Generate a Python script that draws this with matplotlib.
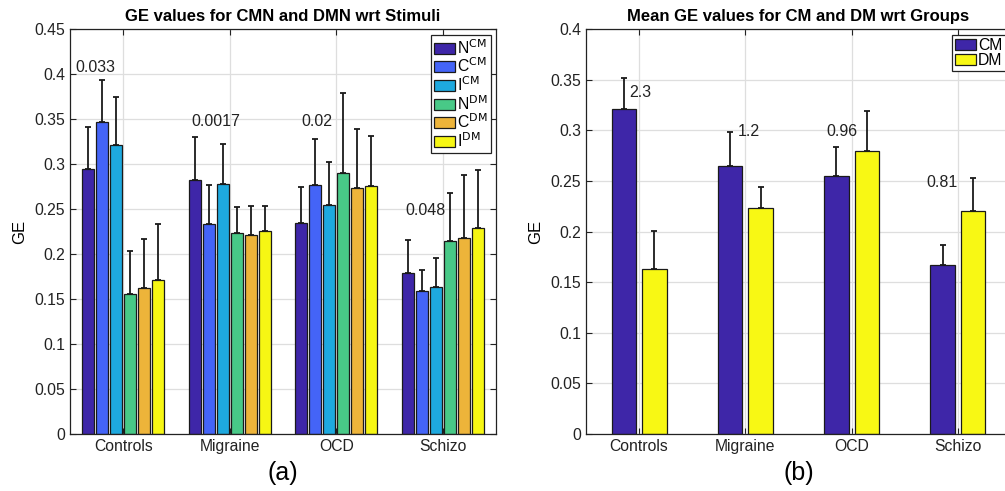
import numpy as np
import matplotlib
matplotlib.use("Agg")
import matplotlib.pyplot as plt

plt.rcParams["font.family"] = ["Liberation Sans", "DejaVu Sans"]

# ── data ──────────────────────────────────────────────────────────────────────
groups = ["Controls", "Migraine", "OCD", "Schizo"]

# panel (a): GE per stimulus
stim_names = ["N$^{\\mathrm{CM}}$", "C$^{\\mathrm{CM}}$", "I$^{\\mathrm{CM}}$",
              "N$^{\\mathrm{DM}}$", "C$^{\\mathrm{DM}}$", "I$^{\\mathrm{DM}}$"]
n_cm = [0.295, 0.282, 0.235, 0.179]
c_cm = [0.347, 0.234, 0.277, 0.159]
i_cm = [0.321, 0.278, 0.255, 0.163]
n_dm = [0.156, 0.224, 0.290, 0.215]
c_dm = [0.162, 0.221, 0.273, 0.218]
i_dm = [0.171, 0.226, 0.276, 0.229]
n_cm_err = [0.046, 0.048, 0.040, 0.037]
c_cm_err = [0.047, 0.043, 0.051, 0.023]
i_cm_err = [0.054, 0.044, 0.048, 0.033]
n_dm_err = [0.048, 0.028, 0.089, 0.053]
c_dm_err = [0.055, 0.032, 0.066, 0.070]
i_dm_err = [0.063, 0.028, 0.055, 0.064]
p_labels_a = ["0.033", "0.0017", "0.02", "0.048"]

# panel (b): mean GE per group
cm_mean = [0.321, 0.265, 0.255, 0.167]
dm_mean = [0.163, 0.2235, 0.2795, 0.2205]
cm_err = [0.031, 0.033, 0.029, 0.020]
dm_err = [0.038, 0.021, 0.040, 0.033]
p_labels_b = ["2.3", "1.2", "0.96", "0.81"]

# ── styling ───────────────────────────────────────────────────────────────────
stim_colors = ["#3E26A8", "#4464F7", "#1EA9DF", "#48C987", "#EDB43A", "#F6F614"]
pos_a = [(0.737, 0.408), (1.865, 0.348), (2.814, 0.348), (3.834, 0.248)]
pos_b = [(1.007, 0.338), (2.03, 0.2985), (2.91, 0.2985), (3.85, 0.2484)]


def style_axes(ax, ymax, yticks):
    ax.set_xlim(0.5, 4.5)
    ax.set_ylim(0, ymax)
    ax.set_xticks(np.arange(1, 5))
    ax.set_xticklabels(groups)
    ax.set_yticks(yticks)
    ax.set_yticklabels([f"{t:g}" for t in yticks])
    ax.grid(True, color="#dedede", lw=0.9)
    ax.set_axisbelow(True)
    ax.tick_params(direction="in", top=True, right=True, length=4,
                   labelsize=11.3, colors="#222222", labelcolor="#222222")
    for s in ax.spines.values():
        s.set_color("#222222")
        s.set_linewidth(0.9)
    ax.set_ylabel("GE", fontsize=12)


def add_legend(ax):
    leg = ax.legend(loc="upper right", fontsize=11.3, handlelength=1.35,
                    handleheight=0.7, handletextpad=0.1, labelspacing=0.0,
                    borderpad=0.2, borderaxespad=0.35, fancybox=False,
                    framealpha=1, edgecolor="#222222")
    leg.get_frame().set_linewidth(0.9)


fig = plt.figure(figsize=(10.05, 4.91), dpi=100)

# ── panel (a) ────────────────────────────────────────────────────────────────
ax_a = fig.add_axes([70 / 1005, 1 - 434 / 491, 426 / 1005, 404.7 / 491])
x = np.arange(1, 5)
series = [n_cm, c_cm, i_cm, n_dm, c_dm, i_dm]
errs = [n_cm_err, c_cm_err, i_cm_err, n_dm_err, c_dm_err, i_dm_err]
step, width = 0.1316, 0.113
for k, (vals, e) in enumerate(zip(series, errs)):
    xs = x + (k - 2.5) * step
    ax_a.bar(xs, vals, width, color=stim_colors[k], edgecolor="#1a1a1a",
             lw=0.9, label=stim_names[k], zorder=2)
    ax_a.errorbar(xs, vals, yerr=[np.zeros(4), e], fmt="none", ecolor="#1a1a1a",
                  elinewidth=1.3, capsize=2.5, capthick=1.3, zorder=3)
for lab, (px, py) in zip(p_labels_a, pos_a):
    ax_a.text(px, py, lab, ha="center", va="center", fontsize=11.5, color="#222222")
style_axes(ax_a, 0.45, np.arange(0, 0.451, 0.05))
ax_a.yaxis.set_label_coords(-0.10, 0.5)
ax_a.set_title("GE values for CMN and DMN wrt Stimuli", fontsize=12,
               fontweight="bold", pad=6)
ax_a.set_xlabel("(a)", fontsize=18, labelpad=5)
add_legend(ax_a)

# ── panel (b) ────────────────────────────────────────────────────────────────
ax_b = fig.add_axes([586 / 1005, 1 - 434 / 491, 425 / 1005, 404.7 / 491])
bw = 0.23
ax_b.bar(x - 0.144, cm_mean, bw, color="#3E26A8", edgecolor="#1a1a1a", lw=0.9,
         label="CM", zorder=2)
ax_b.bar(x + 0.144, dm_mean, bw, color="#F8F814", edgecolor="#1a1a1a", lw=0.9,
         label="DM", zorder=2)
ax_b.errorbar(x - 0.144, cm_mean, yerr=[np.zeros(4), cm_err], fmt="none",
              ecolor="#1a1a1a", elinewidth=1.3, capsize=2.5, capthick=1.3, zorder=3)
ax_b.errorbar(x + 0.144, dm_mean, yerr=[np.zeros(4), dm_err], fmt="none",
              ecolor="#1a1a1a", elinewidth=1.3, capsize=2.5, capthick=1.3, zorder=3)
for lab, (px, py) in zip(p_labels_b, pos_b):
    ax_b.text(px, py, lab, ha="center", va="center", fontsize=11.5, color="#222222")
style_axes(ax_b, 0.4, np.arange(0, 0.401, 0.05))
ax_b.yaxis.set_label_coords(-0.10, 0.5)
ax_b.set_title("Mean GE values for CM and DM wrt Groups", fontsize=12,
               fontweight="bold", pad=6)
ax_b.set_xlabel("(b)", fontsize=18, labelpad=5)
add_legend(ax_b)

fig.savefig("out.png", dpi=100)
